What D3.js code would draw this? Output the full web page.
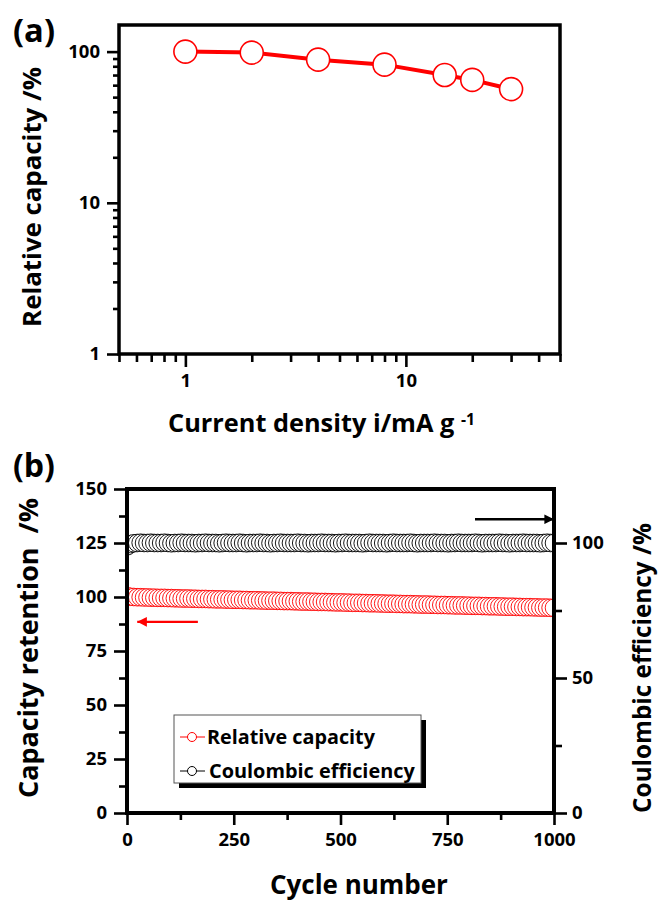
<!DOCTYPE html>
<html>
<head>
<meta charset="utf-8">
<script src="https://cdn.jsdelivr.net/npm/d3@7"></script>
<style>
  html, body { margin: 0; padding: 0; background: #fff; }
  svg text { font-family: "Open Sans", Lato, sans-serif; font-weight: 700; fill: #000; }
</style>
</head>
<body>
<svg id="chart" width="663" height="904"></svg>
<script>
// ---------- Panel (a) data ----------
const currentDensity = [1, 2, 4, 8, 15, 20, 30];
const relativeCapacityA = [100, 98.5, 88.5, 82, 70, 65, 56.5];
const aYMajor = [1, 10, 100];
const aYMinor = [2,3,4,5,6,7,8,9,20,30,40,50,60,70,80,90];
const aXMajor = [1, 10];
const aXMinor = [0.5,0.6,0.7,0.8,0.9,2,3,4,5,6,7,8,9,20,30,40,50];

// ---------- Panel (b) data ----------
const cycles = [1,8,16,24,32,40,48,56,64,72,80,88,96,104,112,120,128,136,144,152,160,168,176,184,192,200,208,216,224,232,240,248,256,264,272,280,288,296,304,312,320,328,336,344,352,360,368,376,384,392,400,408,416,424,432,440,448,456,464,472,480,488,496,504,512,520,528,536,544,552,560,568,576,584,592,600,608,616,624,632,640,648,656,664,672,680,688,696,704,712,720,728,736,744,752,760,768,776,784,792,800,808,816,824,832,840,848,856,864,872,880,888,896,904,912,920,928,936,944,952,960,968,976,984,992,1000];
const relativeCapacityB = [
  100.3,100.1,100.0,99.9,99.9,99.8,99.8,99.7,99.7,99.6,
  99.6,99.6,99.5,99.5,99.4,99.4,99.3,99.3,99.3,99.2,
  99.2,99.1,99.1,99.1,99.0,99.0,98.9,98.9,98.9,98.8,
  98.8,98.7,98.7,98.7,98.6,98.6,98.5,98.5,98.5,98.4,
  98.4,98.3,98.3,98.3,98.2,98.2,98.1,98.1,98.1,98.0,
  98.0,97.9,97.9,97.9,97.8,97.8,97.7,97.7,97.7,97.6,
  97.6,97.5,97.5,97.5,97.4,97.4,97.3,97.3,97.3,97.2,
  97.2,97.1,97.1,97.1,97.0,97.0,96.9,96.9,96.9,96.8,
  96.8,96.7,96.7,96.7,96.6,96.6,96.5,96.5,96.5,96.4,
  96.4,96.3,96.3,96.3,96.2,96.2,96.1,96.1,96.1,96.0,
  96.0,95.9,95.9,95.9,95.8,95.8,95.7,95.7,95.7,95.6,
  95.6,95.5,95.5,95.5,95.4,95.4,95.3,95.3,95.3,95.2,
  95.2,95.1,95.1,95.1,95.0,95.0];
const coulombicEfficiency = [
  98.8,99.6,99.9,100.0,100.1,100.0,100.0,100.1,100.0,100.0,
  100.0,100.1,100.0,99.9,100.0,100.0,100.1,100.0,100.0,100.0,
  99.9,100.0,100.0,100.1,100.0,100.0,100.0,99.9,100.0,100.1,
  100.0,100.0,100.0,100.1,100.0,99.9,100.0,100.0,100.0,100.1,
  100.0,100.0,99.9,100.0,100.0,100.1,100.0,100.0,100.0,100.0,
  100.1,100.0,100.0,99.9,100.0,100.0,100.0,100.1,100.0,100.0,
  100.0,99.9,100.0,100.0,100.1,100.0,100.0,100.0,100.0,99.9,
  100.0,100.1,100.0,100.0,100.0,100.0,99.9,100.0,100.1,100.0,
  100.0,100.0,100.0,100.1,100.0,99.9,100.0,100.0,100.0,100.0,
  100.1,100.0,100.0,100.0,99.9,100.0,100.0,100.1,100.0,100.0,
  100.0,100.0,100.1,100.0,99.9,100.0,100.0,100.0,100.0,100.1,
  100.0,100.0,99.9,100.0,100.0,100.0,100.1,100.0,100.0,100.0,
  100.0,99.9,100.0,100.1,100.0,100.0];
const bYMajor = [0,25,50,75,100,125,150];
const bYMinor = [12.5,37.5,62.5,87.5,112.5,137.5];
const bXMajor = [0,250,500,750,1000];
const bXMinor = [125,375,625,875];
const bY2Major = [0,50,100];
const bY2Minor = [25,75];
const legendLabels = ["Relative capacity", "Coulombic efficiency"];

const RED = "#ff0000";
const TICK_FS = 18.5;
const svg = d3.select("#chart");

function styleAxis(g) {
  g.select(".domain").remove();
  g.selectAll(".tick line").attr("stroke", "#000").attr("stroke-width", 2.6);
  g.selectAll(".tick text").style("font-size", TICK_FS + "px")
    .style("font-family", "'Open Sans', sans-serif").style("font-weight", 700);
}
// scale a text's font size so that it spans a given width
function fitWidth(sel, target) {
  const w = sel.node().getComputedTextLength();
  const fs = parseFloat(sel.style("font-size"));
  if (w > 0) sel.style("font-size", (fs * target / w) + "px");
  return sel;
}

// ================= Panel (a) =================
const aL = 119, aR = 560, aT = 25, aB = 354;
const xA = d3.scaleLog().domain([0.5, 50]).range([aL, aR]);
const yA = d3.scaleLog().domain([1, 150]).range([aB, aT]);

const ga = svg.append("g");
ga.append("g").attr("transform", `translate(0,${aB})`)
  .call(d3.axisBottom(xA).tickValues(aXMinor).tickSize(8).tickFormat(""))
  .call(styleAxis);
ga.append("g").attr("transform", `translate(0,${aB})`)
  .call(d3.axisBottom(xA).tickValues(aXMajor).tickSize(13).tickPadding(7).tickFormat(d3.format("d")))
  .call(styleAxis);
ga.append("g").attr("transform", `translate(${aL},0)`)
  .call(d3.axisLeft(yA).tickValues(aYMinor).tickSize(6).tickFormat(""))
  .call(styleAxis);
ga.append("g").attr("transform", `translate(${aL},0)`)
  .call(d3.axisLeft(yA).tickValues(aYMajor).tickSize(12).tickPadding(7).tickFormat(d3.format("d")))
  .call(styleAxis);

const ptsA = currentDensity.map((d, i) => [xA(d), yA(relativeCapacityA[i])]);
ga.append("path").attr("d", d3.line()(ptsA))
  .attr("fill", "none").attr("stroke", RED).attr("stroke-width", 4);
ga.selectAll("circle.a").data(ptsA).enter().append("circle")
  .attr("cx", d => d[0]).attr("cy", d => d[1]).attr("r", 11.5)
  .attr("fill", "#fff").attr("stroke", RED).attr("stroke-width", 1.6);

ga.append("rect").attr("x", aL).attr("y", aT).attr("width", aR - aL).attr("height", aB - aT)
  .attr("fill", "none").attr("stroke", "#000").attr("stroke-width", 3.5);

fitWidth(svg.append("text").attr("x", 13).attr("y", 42).style("font-size", "30px").text("(a)"), 42);
fitWidth(svg.append("text").attr("transform", `translate(41,197) rotate(-90)`)
  .attr("text-anchor", "middle").style("font-size", "22px").text("Relative capacity /%"), 260);
const xt = svg.append("text").attr("x", 168).attr("y", 432).style("font-size", "22px");
xt.append("tspan").text("Current density i/mA g ");
xt.append("tspan").attr("dy", "-0.45em").style("font-size", "0.62em").text("-1");
fitWidth(xt, 307);

// ================= Panel (b) =================
const bL = 127, bR = 554, bT = 489, bB = 813;
const xB = d3.scaleLinear().domain([0, 1000]).range([bL, bR]);
const yB = d3.scaleLinear().domain([0, 150]).range([bB, bT]);
const yB2 = d3.scaleLinear().domain([0, 120]).range([bB, bT]);

const gb = svg.append("g");
gb.append("g").attr("transform", `translate(0,${bB})`)
  .call(d3.axisBottom(xB).tickValues(bXMinor).tickSize(7).tickFormat(""))
  .call(styleAxis);
gb.append("g").attr("transform", `translate(0,${bB})`)
  .call(d3.axisBottom(xB).tickValues(bXMajor).tickSize(12).tickPadding(8).tickFormat(d3.format("d")))
  .call(styleAxis);
gb.append("g").attr("transform", `translate(${bL},0)`)
  .call(d3.axisLeft(yB).tickValues(bYMinor).tickSize(8).tickFormat(""))
  .call(styleAxis);
gb.append("g").attr("transform", `translate(${bL},0)`)
  .call(d3.axisLeft(yB).tickValues(bYMajor).tickSize(13).tickPadding(7).tickFormat(d3.format("d")))
  .call(styleAxis);
gb.append("g").attr("transform", `translate(${bR},0)`)
  .call(d3.axisRight(yB2).tickValues(bY2Minor).tickSize(8).tickFormat(""))
  .call(styleAxis);
gb.append("g").attr("transform", `translate(${bR},0)`)
  .call(d3.axisRight(yB2).tickValues(bY2Major).tickSize(13).tickPadding(5).tickFormat(d3.format("d")))
  .call(styleAxis);

// clip markers to the frame
svg.append("defs").append("clipPath").attr("id", "clipB")
  .append("rect").attr("x", bL).attr("y", bT).attr("width", bR - bL).attr("height", bB - bT);
const plotB = gb.append("g").attr("clip-path", "url(#clipB)");
plotB.selectAll("circle.rc").data(cycles).enter().append("circle")
  .attr("cx", d => xB(d)).attr("cy", (d, i) => yB(relativeCapacityB[i])).attr("r", 8.8)
  .attr("fill", "#fff").attr("stroke", RED).attr("stroke-width", 0.9);
plotB.selectAll("circle.ce").data(cycles).enter().append("circle")
  .attr("cx", d => xB(d)).attr("cy", (d, i) => yB2(coulombicEfficiency[i])).attr("r", 8.8)
  .attr("fill", "#fff").attr("stroke", "#000").attr("stroke-width", 0.9);

gb.append("rect").attr("x", bL).attr("y", bT).attr("width", bR - bL).attr("height", bB - bT)
  .attr("fill", "none").attr("stroke", "#000").attr("stroke-width", 4);

// arrows
const defs = svg.append("defs");
function arrowMarker(id, color) {
  defs.append("marker").attr("id", id).attr("viewBox", "0 0 10 10")
    .attr("refX", 10).attr("refY", 5).attr("markerWidth", 5).attr("markerHeight", 4)
    .attr("markerUnits", "strokeWidth").attr("orient", "auto")
    .append("path").attr("d", "M0,0 L10,5 L0,10 Z").attr("fill", color);
}
arrowMarker("arrB", "#000");
arrowMarker("arrR", RED);
gb.append("line").attr("x1", xB(815)).attr("x2", xB(1000)).attr("y1", yB(136)).attr("y2", yB(136))
  .attr("stroke", "#000").attr("stroke-width", 2.4).attr("marker-end", "url(#arrB)");
gb.append("line").attr("x1", xB(166)).attr("x2", xB(24)).attr("y1", yB(88.5)).attr("y2", yB(88.5))
  .attr("stroke", RED).attr("stroke-width", 2.4).attr("marker-end", "url(#arrR)");

// legend
const lg = gb.append("g");
lg.append("rect").attr("x", 179).attr("y", 720).attr("width", 247).attr("height", 68).attr("fill", "#000");
lg.append("rect").attr("x", 174).attr("y", 715).attr("width", 247).attr("height", 68)
  .attr("fill", "#fff").attr("stroke", "#555").attr("stroke-width", 1);
const legColors = [RED, "#000"];
const legWidths = [168, 206];
legendLabels.forEach((lab, i) => {
  const cy = 737 + i * 34;
  lg.append("line").attr("x1", 180).attr("x2", 205).attr("y1", cy).attr("y2", cy)
    .attr("stroke", legColors[i]).attr("stroke-width", 1);
  lg.append("circle").attr("cx", 192).attr("cy", cy).attr("r", 4.5)
    .attr("fill", "#fff").attr("stroke", legColors[i]).attr("stroke-width", 1);
  fitWidth(lg.append("text").attr("x", 207 + i * 2).attr("y", cy + 7).style("font-size", "19px").text(lab), legWidths[i]);
});

fitWidth(svg.append("text").attr("x", 13).attr("y", 477).style("font-size", "30px").text("(b)"), 42);
fitWidth(svg.append("text").attr("transform", `translate(38,648) rotate(-90)`)
  .attr("text-anchor", "middle").style("font-size", "22px").style("white-space", "pre").text("Capacity retention  /%"), 300);
fitWidth(svg.append("text").attr("transform", `translate(651,668) rotate(-90)`)
  .attr("text-anchor", "middle").style("font-size", "22px").text("Coulombic efficiency /%"), 290);
fitWidth(svg.append("text").attr("x", 270).attr("y", 894).style("font-size", "24px").text("Cycle number"), 178);
</script>
</body>
</html>
